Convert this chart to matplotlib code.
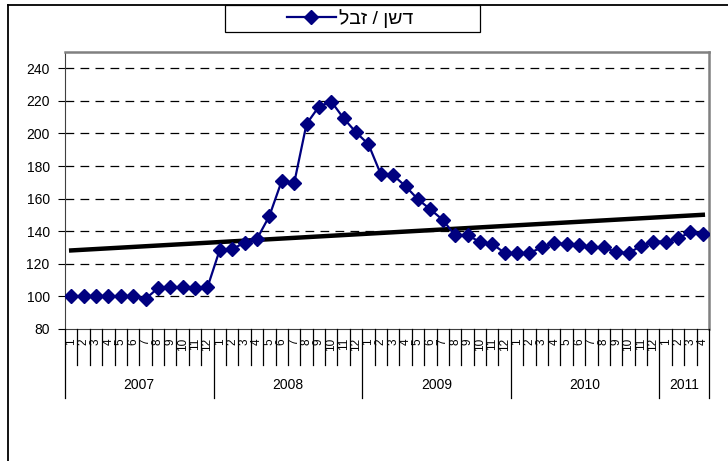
import matplotlib.pyplot as plt
import matplotlib.transforms as mtransforms
from matplotlib.lines import Line2D
from matplotlib.patches import Rectangle
import numpy as np

plt.rcParams['font.family'] = ['Liberation Sans', 'DejaVu Sans']

# monthly index values, 2007-01 .. 2011-04
years = ['2007', '2008', '2009', '2010', '2011']
months_per_year = [12, 12, 12, 12, 4]
values = [
    100, 100.4, 100, 100, 100, 100, 98.5, 105, 105.5, 105.5, 105, 105.5,   # 2007
    128.7, 129, 133, 135.3, 149.3, 170.9, 169.4, 205.8, 216.5, 219.6, 209.3, 200.7,  # 2008
    193.4, 175, 174.4, 167.6, 159.6, 153.4, 147, 137.4, 137.8, 133.3, 132.2, 126.7,  # 2009
    126.7, 126.5, 130.2, 132.6, 132.2, 131.6, 130.2, 130.2, 127.1, 126.7, 130.8, 133.7,  # 2010
    133.7, 135.7, 139.4, 138,  # 2011
]
series_name = 'דשן / זבל'

month_labels = []
for n in months_per_year:
    month_labels += [str(m) for m in range(1, n + 1)]

W, H = 728, 461
fig = plt.figure(figsize=(W / 100, H / 100), dpi=100)
ax = fig.add_axes([65 / W, (H - 329) / H, (709 - 65) / W, (329 - 52) / H])

x = np.arange(len(values)) + 0.5
line, = ax.plot(x, values, color='#000080', lw=1.6, marker='D', markersize=7.5,
                markeredgecolor='#000080', markerfacecolor='#000080', zorder=3)

# linear trend line
coef = np.polyfit(x, values, 1)
ax.plot(x, np.polyval(coef, x), color='black', lw=3.2, zorder=2)

ax.set_xlim(0, len(values))
ax.set_ylim(80, 250)
ax.set_yticks(range(80, 241, 20))
ax.tick_params(axis='y', direction='out', length=5, labelsize=10, pad=6)
ax.set_xticks([])
for v in range(100, 241, 20):
    ax.axhline(v, color='black', lw=0.9, ls=(0, (7, 5)), zorder=1)

for side in ['top', 'right']:
    ax.spines[side].set_color('#808080')
    ax.spines[side].set_linewidth(1.8)
ax.spines['left'].set_color('#404040')
ax.spines['bottom'].set_color('#404040')

# multi-level category axis
tr = mtransforms.blended_transform_factory(ax.transData, fig.transFigure)
y_axis = (H - 329) / H
y_month = (H - 365) / H
y_year = (H - 398) / H
for i, lab in enumerate(month_labels):
    ax.text(i + 0.5, (H - 338) / H, lab, transform=tr, rotation=90, ha='center',
            va='top', fontsize=8.5)
bounds = np.concatenate([[0], np.cumsum(months_per_year)])
for k in range(len(values) + 1):
    bottom = y_year if k in bounds else y_month
    fig.add_artist(Line2D([k, k], [y_axis, bottom], transform=tr, color='black', lw=0.9))
for yr, a, b in zip(years, bounds[:-1], bounds[1:]):
    ax.text((a + b) / 2, (H - 385) / H, yr, transform=tr, ha='center', va='center',
            fontsize=10)

# legend box at top
fig.add_artist(Rectangle((225 / W, 1 - 32 / H), (480 - 225) / W, 27 / H,
                         transform=fig.transFigure, facecolor='white',
                         edgecolor='black', lw=0.9, zorder=4))
leg = fig.legend([line], [series_name[::-1]], loc='center left',
                 bbox_to_anchor=(287 / W, 1 - 18.5 / H), fontsize=14,
                 frameon=False, handlelength=2.5, borderpad=0, borderaxespad=0,
                 handletextpad=0.15)
leg.set_zorder(5)

# outer chart frame (right and bottom fall outside the image)
fig.add_artist(Line2D([8 / W, 8 / W], [0, 1 - 5 / H], color='black', lw=1.3))
fig.add_artist(Line2D([8 / W, 1], [1 - 5 / H, 1 - 5 / H], color='black', lw=1.3))

fig.savefig('out.png', dpi=100)
